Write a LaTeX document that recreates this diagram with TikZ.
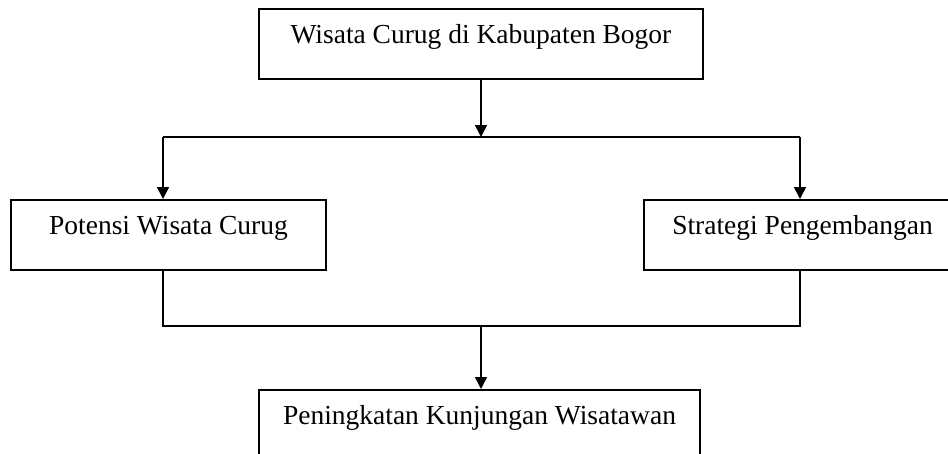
\documentclass[tikz,border=0pt]{standalone}
\usepackage{fontspec}
\setmainfont{Liberation Serif}
\usetikzlibrary{arrows.meta}
\begin{document}
\begin{tikzpicture}[x=1pt,y=-1pt,
  box/.style={draw, line width=1.5pt, rectangle, anchor=north, inner xsep=0pt, inner ysep=0pt,
    text height=35pt, text depth=35pt, font=\fontsize{27.5}{33}\selectfont},
  conn/.style={line width=1.6pt},
  arr/.style={conn, -{Triangle[length=12pt,width=12pt]}}]
\useasboundingbox (0,0) rectangle (948,453);
\clip (0,0) rectangle (948,453);
\node[box, minimum width=444pt] (top) at (481,8) {Wisata Curug di Kabupaten Bogor};
\node[box, minimum width=315pt] (left) at (168.5,199) {Potensi Wisata Curug};
\node[box, minimum width=317pt] (right) at (802.5,199) {Strategi Pengembangan};
\node[box, minimum width=441pt] (bottom) at (479.5,389) {Peningkatan Kunjungan Wisatawan};
\coordinate (jt) at (481,137);
\coordinate (jl) at (163,137);
\coordinate (jr) at (800,137);
\coordinate (bl) at (163,326);
\coordinate (br) at (800,326);
\coordinate (bm) at (481,326);
\draw[arr] (top.south -| jt) -- (jt);
\draw[conn] (jl) -- (jr);
\draw[arr] (jl) -- (jl |- left.north);
\draw[arr] (jr) -- (jr |- right.north);
\draw[conn] (bl |- left.south) -- (bl) -- (br) -- (br |- right.south);
\draw[arr] (bm) -- (bm |- bottom.north);
\end{tikzpicture}
\end{document}
